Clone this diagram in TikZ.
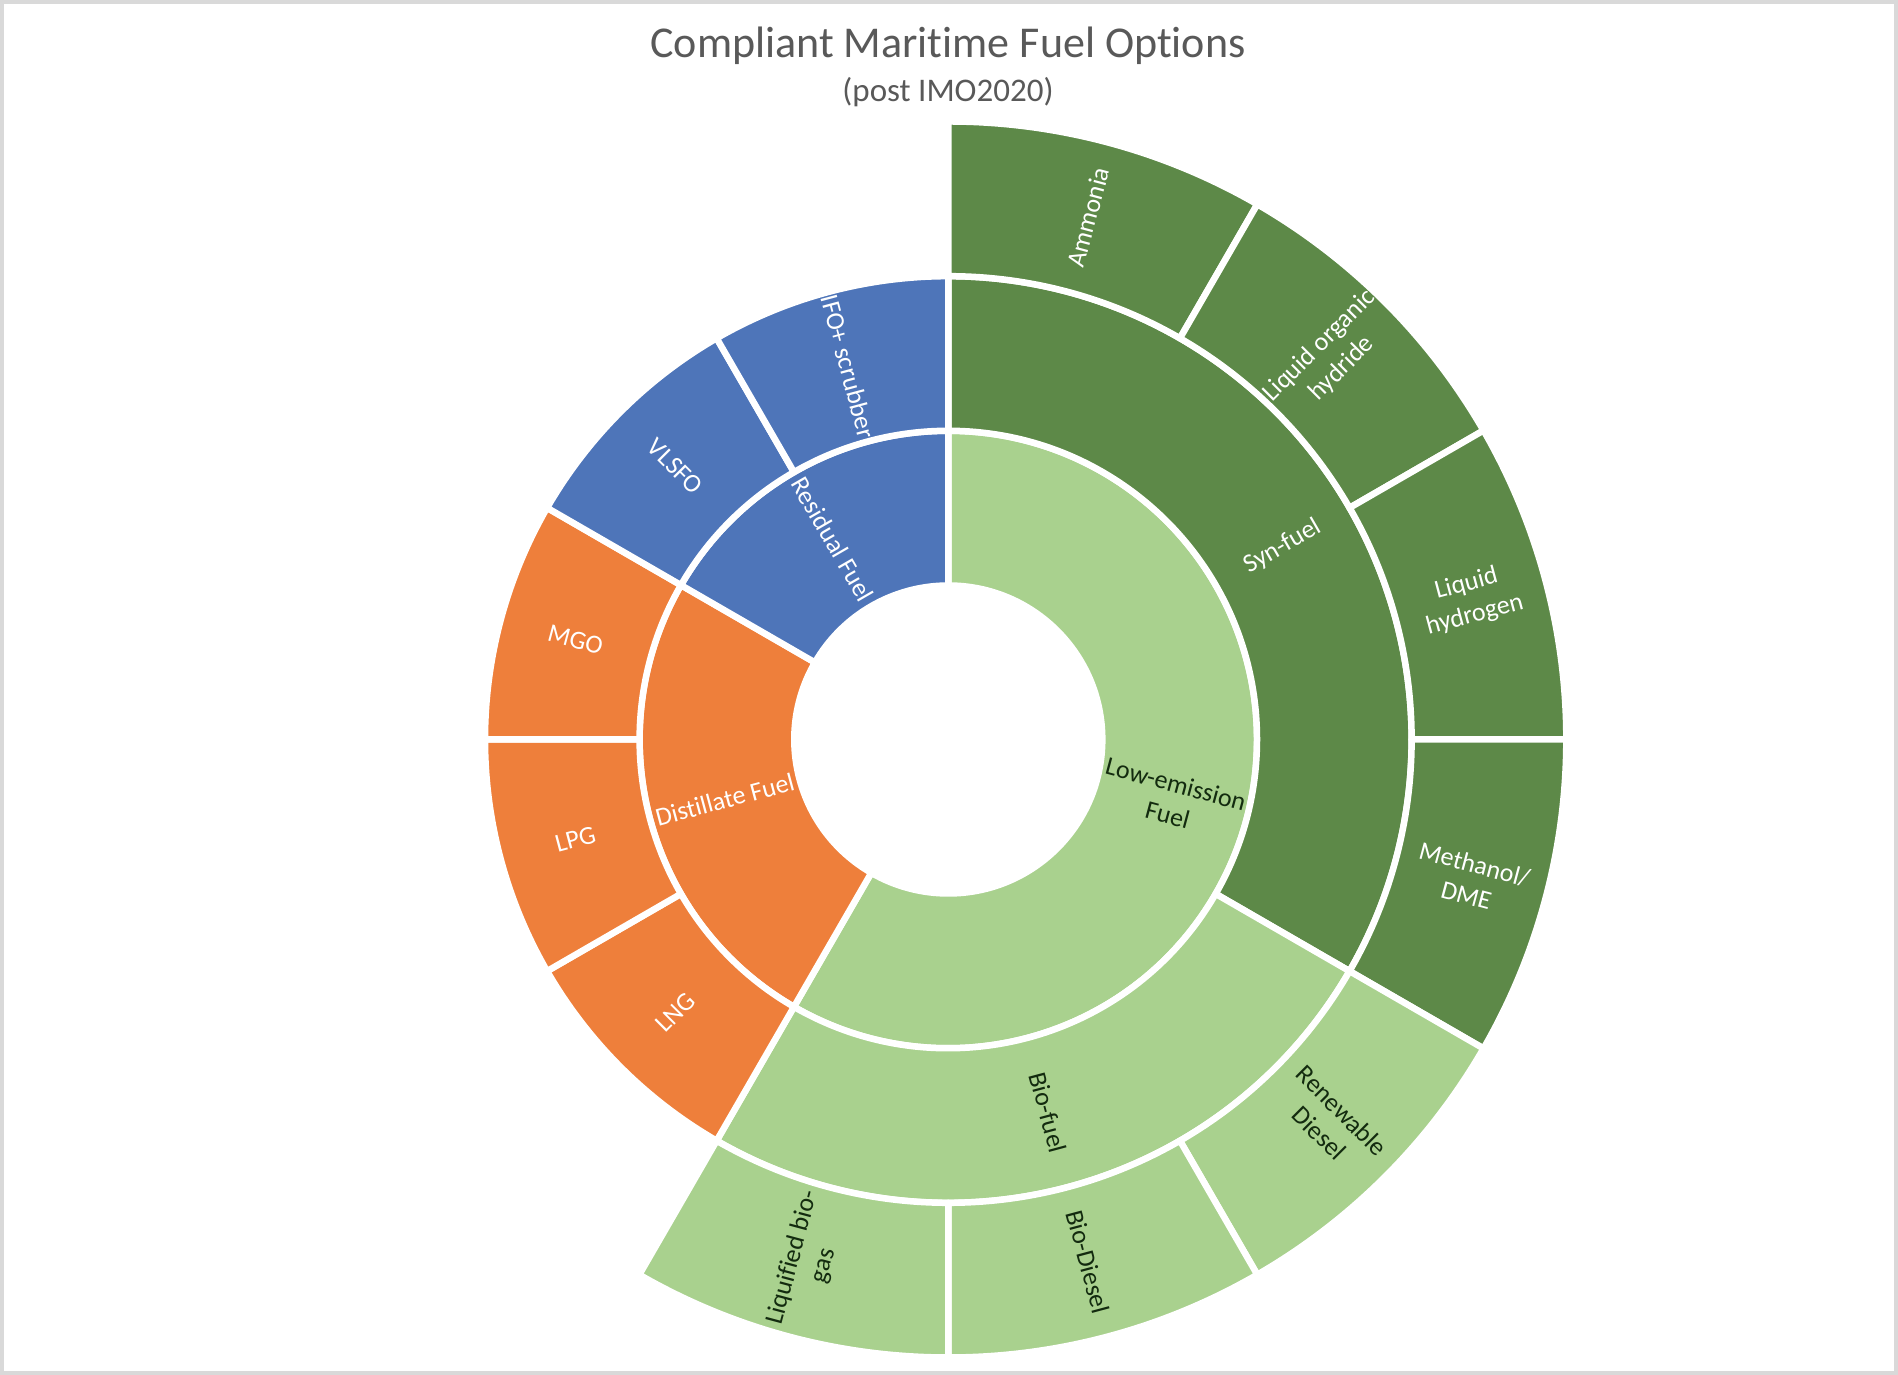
\documentclass[tikz,border=0pt]{standalone}
\usepackage{fontspec}
\setmainfont{Carlito}[Ligatures={NoCommon}]
\definecolor{lg}{HTML}{A9D18E}
\definecolor{dg}{HTML}{5D8948}
\definecolor{bl}{HTML}{4E75B9}
\definecolor{orng}{HTML}{EE7F3B}
\definecolor{dtxt}{HTML}{132B0F}
\definecolor{ttl}{HTML}{595959}
\definecolor{framec}{HTML}{D9D9D9}
\newcommand\annseg[5]{%
  \filldraw[sectorstyle, fill=#1] ({90-#2}:#4) arc[start angle={90-#2}, end angle={90-#3}, radius=#4]
    -- ({90-#3}:#5) arc[start angle={90-#3}, end angle={90-#2}, radius=#5] -- cycle;}
\begin{document}
\begin{tikzpicture}[x=1pt,y=1pt,
  sectorstyle/.style={draw=white, line width=6.5pt, line join=round},
  lbl/.style={inner sep=0pt, align=center, font=\fontsize{26}{32}\selectfont},
  lt/.style={lbl, text=white},
  dk/.style={lbl, text=dtxt}]
\useasboundingbox (0,0) rectangle (1898,1375);
\fill[white] (0,0) rectangle (1898,1375);
\draw[framec, line width=4pt] (2,2) rectangle (1896,1373);
\node[font=\fontsize{44}{50}\selectfont, text=ttl, anchor=base] (title) at (948,1317) {Compliant Maritime Fuel Options};
\node[font=\fontsize{33}{38}\selectfont, text=ttl, anchor=base] (subtitle) at (948,1273) {(post IMO2020)};
\begin{scope}[shift={(948.3,635.5)}]
% ring 1
\annseg{lg}{0}{210}{154}{308.7}
\annseg{orng}{210}{300}{154}{308.7}
\annseg{bl}{300}{360}{154}{308.7}
% ring 2
\annseg{dg}{0}{120}{308.7}{463.3}
\annseg{lg}{120}{210}{308.7}{463.3}
\annseg{orng}{210}{240}{308.7}{463.3}
\annseg{orng}{240}{270}{308.7}{463.3}
\annseg{orng}{270}{300}{308.7}{463.3}
\annseg{bl}{300}{330}{308.7}{463.3}
\annseg{bl}{330}{360}{308.7}{463.3}
% ring 3
\annseg{dg}{0}{30}{463.3}{618}
\annseg{dg}{30}{60}{463.3}{618}
\annseg{dg}{60}{90}{463.3}{618}
\annseg{dg}{90}{120}{463.3}{618}
\annseg{lg}{120}{150}{463.3}{618}
\annseg{lg}{150}{180}{463.3}{618}
\annseg{lg}{180}{210}{463.3}{618}
% labels ring 1
\node[dk, rotate=-15] (lowem) at (-15:231.4) {Low-emission\\Fuel};
\node[lt, rotate=15] (distil) at (-165:231.4) {Distillate Fuel};
\node[lt, rotate=-60] (resid) at (120:231.4) {Residual Fuel};
% labels ring 2
\node[lt, rotate=30] (syn) at (30:386) {Syn-fuel};
\node[dk, rotate=-75] (bio) at (-75:386) {Bio-fuel};
\node[lt, rotate=45] (lng) at (-135:386) {LNG};
\node[lt, rotate=15] (lpg) at (-165:386) {LPG};
\node[lt, rotate=-15] (mgo) at (165:386) {MGO};
\node[lt, rotate=-45] (vlsfo) at (135:386) {VLSFO};
\node[lt, rotate=-75] (ifo) at (105:386) {IFO+ scrubber};
% labels ring 3
\node[lt, rotate=75] (ammonia) at (75:540.7) {Ammonia};
\node[lt, rotate=45] (loh) at (45:540.7) {Liquid organic\\hydride};
\node[lt, rotate=15] (lh) at (15:540.7) {Liquid\\hydrogen};
\node[lt, rotate=-15] (meth) at (-15:540.7) {Methanol/\\DME};
\node[dk, rotate=-45] (renew) at (-45:540.7) {Renewable\\Diesel};
\node[dk, rotate=-75] (biod) at (-75:540.7) {Bio-Diesel};
\node[dk, rotate=75] (lbg) at (-105:540.7) {Liquified bio-\\gas};
\end{scope}
\end{tikzpicture}
\end{document}
